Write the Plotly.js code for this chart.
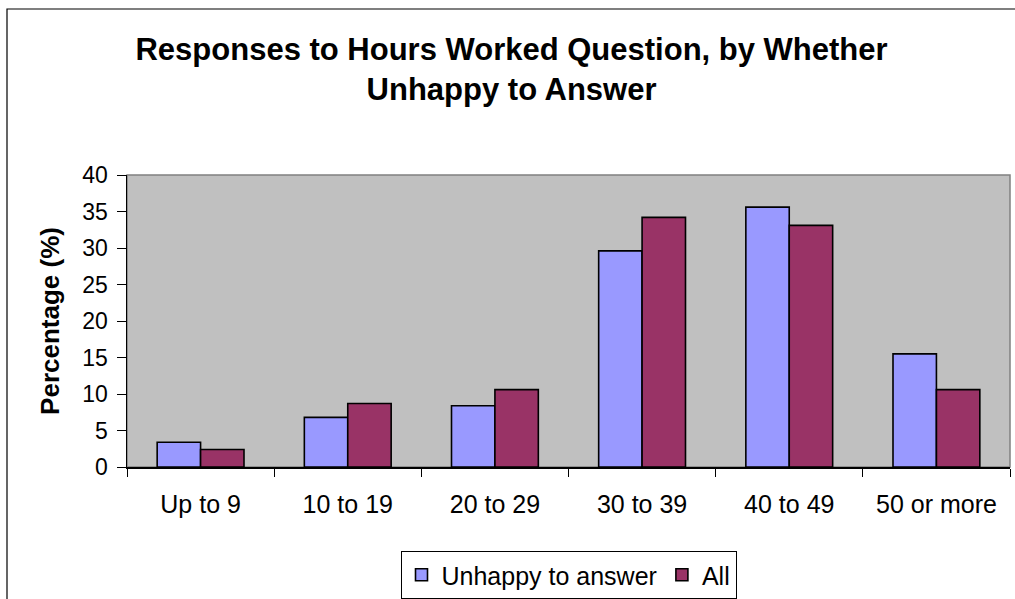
<!DOCTYPE html>
<html>
<head>
<meta charset="utf-8">
<script src="https://cdn.plot.ly/plotly-3.0.1.min.js"></script>
<style>
html,body{margin:0;padding:0;background:#fff;}
#chart{width:1015px;height:599px;}
</style>
</head>
<body>
<div id="chart"></div>
<script>
const categories = ["Up to 9", "10 to 19", "20 to 29", "30 to 39", "40 to 49", "50 or more"];
const unhappyValues = [3.4, 6.8, 8.4, 29.6, 35.6, 15.5];
const allValues = [2.4, 8.7, 10.6, 34.2, 33.1, 10.6];
const seriesNames = ["Unhappy to answer", "All"];
const yTickValues = [0, 5, 10, 15, 20, 25, 30, 35, 40];

const FONT = "Liberation Sans, Arial, sans-serif";

const traces = [
  {
    type: "bar",
    name: seriesNames[0],
    x: categories,
    y: unhappyValues,
    marker: {color: "#9999FF", line: {color: "#000000", width: 1.6}},
    hoverinfo: "x+y+name"
  },
  {
    type: "bar",
    name: seriesNames[1],
    x: categories,
    y: allValues,
    marker: {color: "#993366", line: {color: "#000000", width: 1.6}},
    hoverinfo: "x+y+name"
  }
];

const L = 127, R = 1010, T = 175, B = 467;
const pw = R - L, ph = B - T;
const px = v => (v - L) / pw;
const py = v => (B - v) / ph;

const layout = {
  width: 1015,
  height: 599,
  margin: {l: L, r: 1015 - R, t: T, b: 599 - B, pad: 0, autoexpand: false},
  paper_bgcolor: "#FFFFFF",
  plot_bgcolor: "#C0C0C0",
  font: {family: FONT, size: 24, color: "#000000"},
  title: {
    text: "Responses to Hours Worked Question, by Whether<br>Unhappy to Answer",
    font: {family: FONT, size: 31, color: "#000000", weight: "bold"},
    x: 0.504,
    xanchor: "center",
    xref: "container",
    y: 1 - 60 / 599,
    yanchor: "middle",
    yref: "container"
  },
  barmode: "group",
  bargap: 0.41,
  bargroupgap: 0,
  xaxis: {
    type: "category",
    showline: true,
    linecolor: "#000000",
    linewidth: 1.5,
    ticks: "outside",
    ticklen: 8,
    tickcolor: "#000000",
    tickwidth: 1,
    tickson: "boundaries",
    ticklabelstandoff: 14,
    tickfont: {family: FONT, size: 25, color: "#000000"},
    showgrid: false,
    zeroline: false,
    fixedrange: true,
    automargin: false
  },
  yaxis: {
    range: [0, 40],
    tickvals: yTickValues,
    showline: true,
    linecolor: "#000000",
    linewidth: 1.5,
    ticks: "outside",
    ticklen: 9,
    tickcolor: "#000000",
    tickwidth: 1,
    ticklabelstandoff: 4,
    tickfont: {family: FONT, size: 23, color: "#000000"},
    showgrid: false,
    zeroline: false,
    fixedrange: true,
    automargin: false,
    title: {
      text: "Percentage (%)",
      font: {family: FONT, size: 26, color: "#000000", weight: "bold"},
      standoff: 15
    }
  },
  legend: {
    orientation: "h",
    x: 0.5,
    xanchor: "center",
    yref: "container",
    y: 1 - 551 / 599,
    yanchor: "top",
    bgcolor: "#FFFFFF",
    bordercolor: "#000000",
    borderwidth: 1,
    font: {family: FONT, size: 25, color: "#000000"},
    itemwidth: 30,
    traceorder: "normal"
  },
  shapes: [
    {
      type: "rect", xref: "paper", yref: "paper",
      x0: 0, x1: 1, y0: 0, y1: 1,
      line: {color: "#808080", width: 1.5},
      fillcolor: "rgba(0,0,0,0)", layer: "below"
    },
    {
      type: "rect", xref: "paper", yref: "paper",
      x0: px(7), x1: px(1030), y0: py(620), y1: py(9),
      line: {color: "#000000", width: 1.2},
      fillcolor: "rgba(0,0,0,0)"
    }
  ],
  showlegend: true
};

Plotly.newPlot("chart", traces, layout, {displayModeBar: false, staticPlot: true});
</script>
</body>
</html>
